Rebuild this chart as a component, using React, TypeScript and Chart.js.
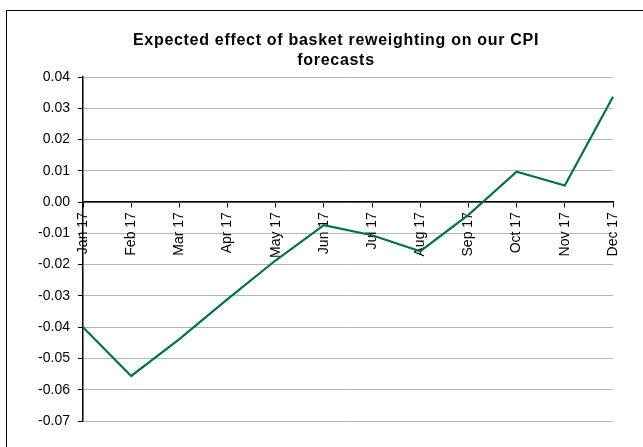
import React, { useEffect, useRef } from "react";
import { Chart, registerables } from "chart.js";

Chart.register(...registerables);

const categories = ["Jan 17", "Feb 17", "Mar 17", "Apr 17", "May 17", "Jun 17", "Jul 17", "Aug 17", "Sep 17", "Oct 17", "Nov 17", "Dec 17"];
const effectValues = [-0.04, -0.0556, -0.0438, -0.031, -0.0186, -0.0074, -0.0106, -0.0157, -0.0041, 0.0097, 0.0053, 0.0337];
const titleLines = ["Expected effect of basket reweighting on our CPI", "forecasts"];
const yMin = -0.07;
const yMax = 0.04;

const titlePlugin = {
  id: "customTitle",
  afterDraw(chart: any) {
    const ctx = chart.ctx;
    ctx.save();
    ctx.font = "bold 16px 'Liberation Sans', Arial, sans-serif";
    (ctx as any).letterSpacing = "0.7px";
    ctx.fillStyle = "#000";
    ctx.textAlign = "center";
    ctx.textBaseline = "alphabetic";
    ctx.fillText(titleLines[0], 336, 45);
    ctx.fillText(titleLines[1], 336, 65);
    ctx.restore();
  },
};

export default function App() {
  const ref = useRef<HTMLCanvasElement | null>(null);
  useEffect(() => {
    if (!ref.current) return;
    const chart = new Chart(ref.current, {
      type: "line",
      data: {
        labels: categories,
        datasets: [
          {
            data: effectValues,
            borderColor: "#00704F",
            borderWidth: 2.2,
            pointRadius: 0,
            tension: 0,
            fill: false,
          },
        ],
      },
      options: {
        animation: false,
        responsive: false,
        maintainAspectRatio: false,
        layout: { padding: { left: 0, right: 30, top: 77, bottom: 26 } },
        plugins: { legend: { display: false }, title: { display: false }, tooltip: { enabled: false } },
        scales: {
          x: {
            type: "category",
            position: { y: 0 } as any,
            offset: false,
            grid: {
              display: true,
              drawOnChartArea: false,
              drawTicks: true,
              tickLength: 5,
              tickColor: "#000",
              color: "#000",
            },
            border: { display: true, color: "#000", width: 1.5 },
            ticks: {
              minRotation: 90,
              maxRotation: 90,
              autoSkip: false,
              padding: 5,
              color: "#000",
              font: { family: "'Liberation Sans', Arial, sans-serif", size: 14 },
            },
          },
          y: {
            min: yMin,
            max: yMax,
            afterFit(scale: any) {
              scale.width = 83;
            },
            ticks: {
              stepSize: 0.01,
              padding: 8,
              color: "#000",
              font: { family: "'Liberation Sans', Arial, sans-serif", size: 14 },
              callback: (v: any) => Number(v).toFixed(2),
            },
            grid: {
              color: "#b4b4b4",
              lineWidth: 1,
              borderDash: [1, 1],
              tickLength: 5,
              tickColor: "#000",
              tickBorderDash: [],
            } as any,
            border: { display: true, color: "#000", width: 1.5 },
          },
        },
      },
      plugins: [titlePlugin],
    });
    return () => chart.destroy();
  }, []);
  return (
    <div style={{ position: "absolute", left: 0, top: 0, width: 643, height: 447, background: "#fff", overflow: "hidden" }}>
      <div style={{ position: "absolute", left: 6, top: 10, width: 700, height: 500, borderTop: "1.5px solid #000", borderLeft: "1.5px solid #000" }} />
      <canvas ref={ref} width={643} height={447} style={{ position: "absolute", left: 0, top: 0, width: 643, height: 447 }} />
    </div>
  );
}
